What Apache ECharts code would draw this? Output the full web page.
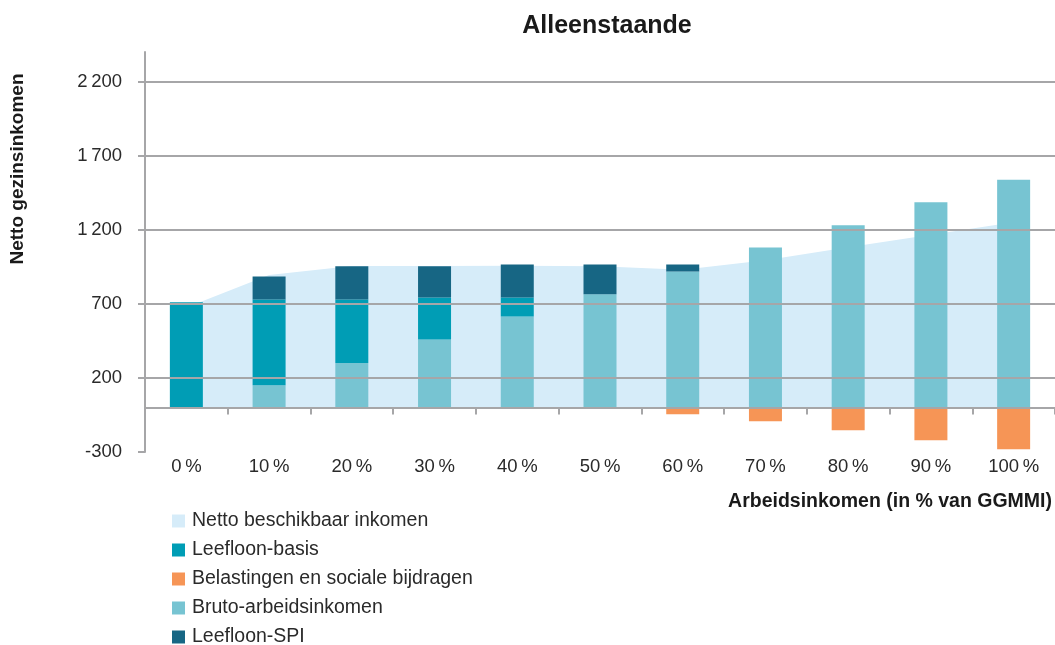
<!DOCTYPE html>
<html>
<head>
<meta charset="utf-8">
<script src="https://cdn.jsdelivr.net/npm/echarts@6/dist/echarts.min.js"></script>
<style>
  html, body { margin: 0; padding: 0; background: #fff; }
  #container { width: 1055px; height: 645px; }
</style>
</head>
<body>
<div id="container"></div>
<script>
let chart = echarts.init(document.getElementById('container'));

// categories (arbeidsinkomen in % van GGMMI)
var categories = ['0\u2009%', '10\u2009%', '20\u2009%', '30\u2009%', '40\u2009%', '50\u2009%',
                  '60\u2009%', '70\u2009%', '80\u2009%', '90\u2009%', '100\u2009%'];
// series values
var netto = [675, 895, 955, 955, 957, 953, 930, 995, 1082, 1166, 1251];
var bruto = [0, 150, 300, 460, 615, 764, 919, 1081, 1230, 1385, 1537];
var basis = [710, 580, 430, 283, 128, 0, 0, 0, 0, 0, 0];
var spi = [0, 155, 223, 210, 223, 202, 47, 0, 0, 0, 0];
var belasting = [0, 0, -10, -10, -10, -10, -45, -92, -153, -220, -282];
// y tick labels
var yTicks = [-300, 200, 700, 1200, 1700, 2200];

var font = 'Liberation Sans, Arial, Helvetica, sans-serif';
var gridGray = '#a6a6a8';
var textColor = '#2a2a2a';

var option = {
    animation: false,
    textStyle: { fontFamily: font },
    title: {
        text: 'Alleenstaande',
        left: 602,
        textAlign: 'center',
        top: 9,
        textStyle: { fontSize: 25, fontWeight: 'bold', color: '#1a1a1a', fontFamily: font }
    },
    legend: {
        orient: 'vertical',
        left: 167,
        top: 506,
        height: 140,
        itemWidth: 13,
        itemHeight: 13,
        itemGap: 9,
        icon: 'rect',
        textStyle: { fontSize: 19.5, lineHeight: 20, color: textColor, fontFamily: font, padding: [0, 0, 0, 2] },
        data: ['Netto beschikbaar inkomen', 'Leefloon-basis', 'Belastingen en sociale bijdragen',
               'Bruto-arbeidsinkomen', 'Leefloon-SPI']
    },
    grid: {
        left: 145,
        right: 0,
        top: 52,
        bottom: 193
    },
    xAxis: [{
        type: 'category',
        data: categories,
        z: 10,
        axisLine: { onZero: true, lineStyle: { color: gridGray, width: 2 } },
        axisTick: { show: true, length: 7, lineStyle: { color: gridGray, width: 2 } },
        axisLabel: { show: false },
        splitLine: { show: false }
    }, {
        type: 'category',
        data: categories,
        position: 'bottom',
        axisLine: { show: false },
        axisTick: { show: false },
        axisLabel: { margin: 5, fontSize: 18.5, color: textColor, fontFamily: font },
        splitLine: { show: false }
    }],
    yAxis: {
        type: 'value',
        min: -300,
        max: 2400,
        interval: 500,
        z: 10,
        axisLine: { show: true, lineStyle: { color: gridGray, width: 2 } },
        axisTick: { show: true, length: 7, customValues: yTicks, lineStyle: { color: gridGray, width: 2 } },
        axisLabel: {
            customValues: yTicks,
            margin: 23,
            fontSize: 18.5,
            color: textColor,
            fontFamily: font,
            formatter: function (v) {
                return v >= 1000 ? Math.floor(v / 1000) + '\u2009' + String(v % 1000).padStart(3, '0') : String(v);
            }
        },
        splitLine: {
            show: true,
            lineStyle: { color: ['rgba(0,0,0,0)', gridGray, gridGray, gridGray, gridGray, gridGray], width: 2 }
        }
    },
    graphic: [{
        type: 'text',
        x: 18,
        y: 169,
        rotation: Math.PI / 2,
        style: {
            text: 'Netto gezinsinkomen',
            fontSize: 19,
            fontWeight: 'bold',
            fontFamily: font,
            fill: '#1a1a1a',
            align: 'center',
            verticalAlign: 'middle'
        }
    }, {
        type: 'text',
        right: 3,
        top: 492,
        style: {
            text: 'Arbeidsinkomen (in % van GGMMI)',
            fontSize: 19.5,
            fontWeight: 'bold',
            fontFamily: font,
            fill: '#1a1a1a'
        }
    }],
    series: [{
        name: 'Netto beschikbaar inkomen',
        type: 'line',
        data: netto,
        symbol: 'none',
        z: 1,
        itemStyle: { color: '#d6ecf9' },
        lineStyle: { width: 0, color: '#d6ecf9' },
        areaStyle: { color: '#d6ecf9', opacity: 1 }
    }, {
        name: 'Bruto-arbeidsinkomen',
        type: 'bar',
        stack: 'total',
        barWidth: 33,
        z: 2,
        itemStyle: { color: '#77c4d2' },
        data: bruto
    }, {
        name: 'Leefloon-basis',
        type: 'bar',
        stack: 'total',
        barWidth: 33,
        z: 2,
        itemStyle: { color: '#009db5' },
        data: basis
    }, {
        name: 'Leefloon-SPI',
        type: 'bar',
        stack: 'total',
        barWidth: 33,
        z: 2,
        itemStyle: { color: '#176684' },
        data: spi
    }, {
        name: 'Belastingen en sociale bijdragen',
        type: 'bar',
        stack: 'total',
        barWidth: 33,
        z: 2,
        itemStyle: { color: '#f69556' },
        data: belasting
    }]
};

chart.setOption(option);
</script>
</body>
</html>
